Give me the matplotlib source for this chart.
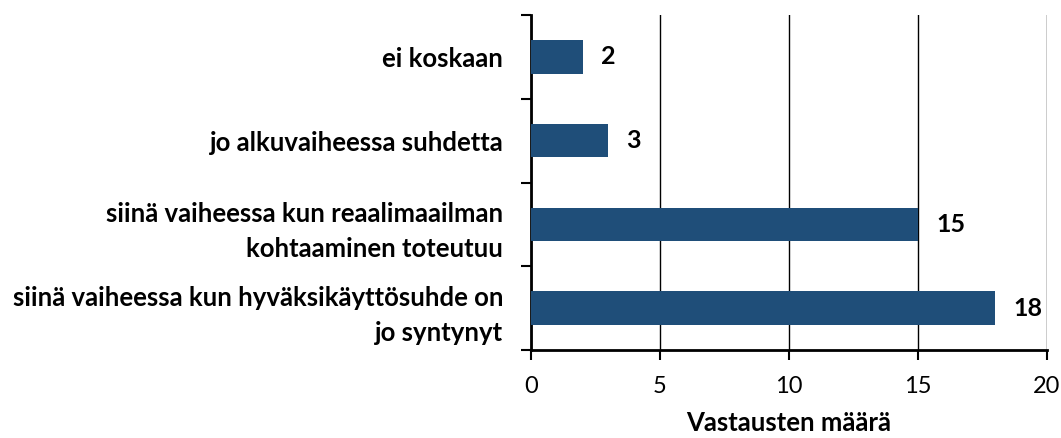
import numpy as np
import matplotlib
matplotlib.use("Agg")
import matplotlib.pyplot as plt

# data (top to bottom as in the chart)
categories = ["ei koskaan",
              "jo alkuvaiheessa suhdetta",
              "siinä vaiheessa kun reaalimaailman\nkohtaaminen toteutuu",
              "siinä vaiheessa kun hyväksikäyttösuhde on\njo syntynyt"]
counts = [2, 3, 15, 18]
x_ticks = [0, 5, 10, 15, 20]
x_label = "Vastausten määrä"

plt.rcParams['font.family'] = ['Lato', 'DejaVu Sans']

fig = plt.figure(figsize=[10.61, 4.38], dpi=100)
ax = fig.add_axes([531/1061, 88/438, 516/1061, 335/438])

ypos = np.arange(len(categories))[::-1]
ax.barh(ypos, counts, height=0.4, color='#1f4e79', zorder=3)
for y, v in zip(ypos, counts):
    ax.text(v + 0.7, y, str(v), va='center', ha='left', fontsize=18, fontweight='bold')

ax.set_xlim(0, 20)
ax.set_ylim(-0.5, len(categories) - 0.5)
ax.set_xticks(x_ticks)
ax.set_xticklabels([str(t) for t in x_ticks], fontsize=17)
ax.tick_params(axis='x', length=7, width=1.5, direction='out', pad=12)
ax.xaxis.grid(True, color='black', linewidth=1, zorder=0)

ax.set_yticks(ypos)
ax.set_yticklabels(categories, fontsize=18.5, fontweight='bold', ha='right',
                   multialignment='right', linespacing=1.55)
ax.tick_params(axis='y', which='major', length=0, pad=20)
ax.set_yticks(np.arange(-0.5, len(categories)), minor=True)
ax.tick_params(axis='y', which='minor', length=7, width=1.5)

ax.set_xlabel(x_label, fontsize=18.5, fontweight='bold', labelpad=10)

for s in ['top', 'right']:
    ax.spines[s].set_visible(False)
ax.spines['left'].set_linewidth(2)
ax.spines['bottom'].set_linewidth(2)

fig.savefig("out.png", dpi=100)
